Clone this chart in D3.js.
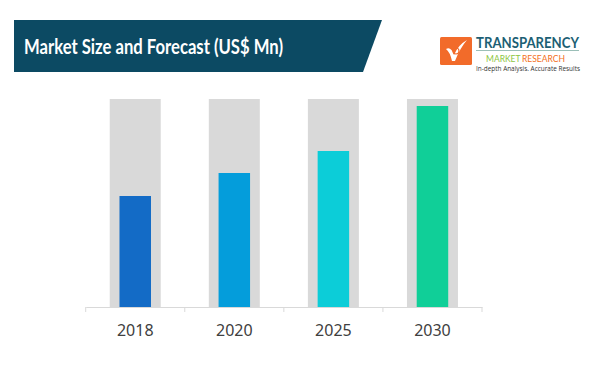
<!DOCTYPE html>
<html>
<head>
<meta charset="utf-8">
<script src="https://cdn.jsdelivr.net/npm/d3@7"></script>
<style>
  html, body { margin: 0; padding: 0; background: #ffffff; }
  svg { display: block; }
</style>
</head>
<body>
<svg id="chart" width="600" height="370"></svg>
<script>
// ---- Data ----
const categories = ["2018", "2020", "2025", "2030"];
const values = [111, 134, 156, 201];          // estimated (relative units)
const backgroundMax = 208;                     // grey background column value
const barColors = ["#136bc6", "#049ddb", "#0ccdd8", "#10cf98"];
const titleText = "Market Size and Forecast (US$ Mn)";

const svg = d3.select("#chart");

// ---- Header banner ----
svg.append("path")
  .attr("d", "M14,20 L382,20 L363,72 L14,72 Z")
  .attr("fill", "#0c4a63");
svg.append("text")
  .attr("x", 24).attr("y", 54)
  .attr("font-family", "Lato, 'Open Sans', sans-serif")
  .attr("font-weight", 700)
  .attr("font-size", 21)
  .attr("textLength", 259)
  .attr("lengthAdjust", "spacingAndGlyphs")
  .attr("fill", "#ffffff")
  .text(titleText);

// ---- Logo ----
const logo = svg.append("g");
logo.append("rect").attr("x", 440).attr("y", 37).attr("width", 32).attr("height", 28)
  .attr("rx", 1.5).attr("fill", "#f26b2a");
logo.append("path")
  .attr("d", "M446,49 Q451,46 454,55 Q458,45 467,40 Q460,48 455,61 L452,61 Q450,52 446,49 Z")
  .attr("fill", "#ffffff");
logo.append("circle").attr("cx", 456).attr("cy", 51).attr("r", 3).attr("fill", "none")
  .attr("stroke", "#f26b2a").attr("stroke-width", 1.2);
logo.append("text").attr("x", 476).attr("y", 47.5)
  .attr("font-family", "Lato, sans-serif").attr("font-weight", 700).attr("font-size", 15)
  .attr("textLength", 103).attr("lengthAdjust", "spacingAndGlyphs")
  .attr("fill", "#1c5f74").text("TRANSPARENCY");
logo.append("line").attr("x1", 476).attr("x2", 579).attr("y1", 50.5).attr("y2", 50.5)
  .attr("stroke", "#9bbfb8").attr("stroke-width", 1);
logo.append("text").attr("x", 486).attr("y", 61.5)
  .attr("font-family", "Lato, sans-serif").attr("font-size", 8.5)
  .attr("fill", "#8cc63f").text("MARKET");
logo.append("text").attr("x", 522).attr("y", 61.5)
  .attr("font-family", "Lato, sans-serif").attr("font-size", 8.5)
  .attr("fill", "#f37021").text("RESEARCH");
logo.append("text").attr("x", 476).attr("y", 71)
  .attr("font-family", "'Open Sans', sans-serif").attr("font-size", 6.5)
  .attr("textLength", 104).attr("lengthAdjust", "spacingAndGlyphs")
  .attr("fill", "#333333").text("In-depth Analysis. Accurate Results");

// ---- Chart ----
const x = d3.scaleBand().domain(categories).range([85.7, 482]).paddingInner(0).paddingOuter(0);
const y = d3.scaleLinear().domain([0, backgroundMax]).range([307, 99]);

const g = svg.append("g");
const bgW = 51, barW = 31.5;

g.selectAll("rect.bg").data(categories).join("rect")
  .attr("class", "bg")
  .attr("x", d => x(d) + x.bandwidth() / 2 - bgW / 2)
  .attr("y", y(backgroundMax))
  .attr("width", bgW)
  .attr("height", y(0) - y(backgroundMax))
  .attr("fill", "#d9d9d9");

g.selectAll("rect.bar").data(values).join("rect")
  .attr("class", "bar")
  .attr("x", (d, i) => x(categories[i]) + x.bandwidth() / 2 - barW / 2)
  .attr("y", d => y(d))
  .attr("width", barW)
  .attr("height", d => y(0) - y(d))
  .attr("fill", (d, i) => barColors[i]);

// ---- Axis ----
const axis = d3.axisBottom(x).tickSize(0).tickPadding(18);
const ax = svg.append("g").attr("transform", `translate(0,${y(0)})`).call(axis);
ax.select(".domain").attr("stroke", "#d9d9d9").attr("stroke-width", 1);
ax.selectAll("text")
  .attr("font-family", "'Noto Sans', 'Open Sans', sans-serif")
  .attr("font-size", 16)
  .attr("fill", "#404040");
// boundary tick marks between categories
const bounds = categories.map(c => x(c)).concat([x(categories[categories.length - 1]) + x.bandwidth()]);
ax.selectAll("line.sep").data(bounds).join("line")
  .attr("class", "sep")
  .attr("x1", d => d).attr("x2", d => d)
  .attr("y1", 0).attr("y2", 5)
  .attr("stroke", "#d9d9d9");
</script>
</body>
</html>
